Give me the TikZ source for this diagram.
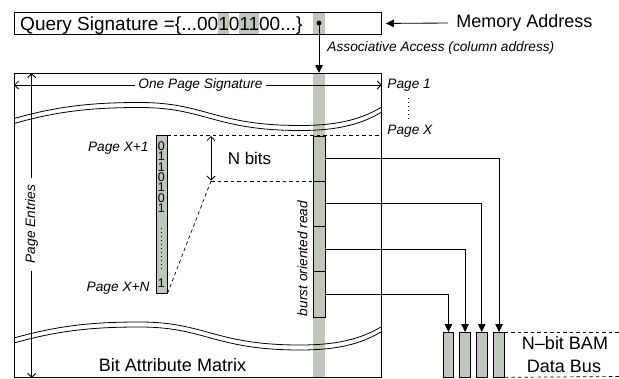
\documentclass[tikz,border=0pt]{standalone}
\usepackage{fontspec}
\setmainfont{Liberation Sans}
\usetikzlibrary{arrows.meta}
\definecolor{cgray}{RGB}{192,197,190}
\newcommand{\hlq}[1]{{\setlength{\fboxsep}{0pt}\colorbox{cgray}{\rule[-4pt]{0pt}{22pt}#1}}}
\begin{document}
\begin{tikzpicture}[x=1pt,y=-1pt,line width=0.85pt,
  lbl/.style={font=\fontsize{13.7}{16}\selectfont\itshape,inner sep=0pt},
  txt/.style={font=\fontsize{18}{21}\selectfont,inner sep=0pt},
  digit/.style={font=\fontsize{12.5}{10.3}\selectfont,inner sep=0pt},
  box/.style={draw,inner sep=0pt,anchor=north west},
  gbox/.style={box,fill=cgray},
  oarr/.style={-{Straight Barb[length=4pt,width=8pt]}},
  farr/.style={-{Triangle[length=8pt,width=7.5pt]}},
  dsh/.style={line width=0.7pt,dash pattern=on 3.5pt off 3pt},
  dots/.style={line width=0.9pt,dash pattern=on 0.8pt off 3.2pt},
  wv/.style={line width=0.8pt}]
\useasboundingbox (0,0) rectangle (619,378);
% gray column
\fill[cgray] (313,12) rectangle (325,34);
\fill[cgray] (313,73) rectangle (325,376.5);
% query box
\node[anchor=base west,inner sep=0pt,font=\fontsize{19}{22}\selectfont] (qtext) at (19.8,30) {Query Signature =\{...00\hlq{1}0\hlq{11}00...\}};
\node[box,minimum width=367pt,minimum height=22pt] (qbox) at (14,12) {};
\coordinate (dot) at (319,23);
\fill (dot) circle (2.4pt);
% matrix
\node[box,minimum width=367pt,minimum height=304pt] (bam) at (14,73) {};
\draw[farr] (dot) -- (dot |- bam.north);
\node[lbl,anchor=west] (assoc) at (327,48) {Associative Access (column address)};
\node[txt,anchor=west] (mem) at (456,23) {Memory Address};
\draw[farr] ([xshift=-8pt]mem.west) -- ([xshift=4pt]qbox.east);
% waves
\foreach \dy in {-2.5,2.5,217,222}
  \draw[wv] (14,121+\dy) .. controls (60,108+\dy) and (95,105+\dy) .. (140,105+\dy)
     .. controls (205,105+\dy) and (215,128+\dy) .. (300,128+\dy)
     .. controls (345,128+\dy) and (365,119+\dy) .. (381,110+\dy);
% one page signature
\node[lbl] (ops) at (200.5,85) {One Page Signature};
\draw[oarr] ([xshift=-3pt]ops.west) -- (ops.west -| bam.west);
\draw[oarr] ([xshift=3pt]ops.east) -- (ops.east -| bam.east);
% page entries
\node[lbl,rotate=90] (pent) at (31.7,224) {Page Entries};
\draw[oarr] ([yshift=6pt]pent.east) -- (pent.east |- bam.north);
\draw[oarr] ([yshift=-7pt]pent.west) -- (pent.west |- bam.south);
% page labels
\node[lbl,anchor=west] (p1) at (387,85) {Page 1};
\node[lbl,anchor=west] (px) at (387,131) {Page X};
\draw[dots] (408,98) -- (408,122);
% bit column
\node[gbox,minimum width=10.5pt,minimum height=158pt] (bits) at (156,135) {};
\node[digit,align=center,anchor=north] (digits) at (161.3,141.5) {0\\1\\1\\0\\1\\0\\1};
\draw[dots] (161.3,228) -- (161.3,270);
\node[digit] (lastbit) at (161.3,283) {1};
\node[lbl,anchor=east] (px1) at (149,148) {Page X+1};
\node[lbl,anchor=east] (pxn) at (150,288) {Page X+N};
% read column
\foreach \i/\y in {1/135.5,2/180.75,3/226,4/271.25}
  \node[gbox,minimum width=11.2pt,minimum height=45.25pt] (r\i) at (313.3,\y) {};
\node[lbl,rotate=90,anchor=west] (burst) at (302.5,316.5) {burst oriented read};
% dashed guides
\draw[dsh] (bits.north east) -- (bits.north east -| bam.east);
\coordinate (nbot) at (211,181);
\draw[dsh] (nbot) -- (nbot -| r2.west);
\draw[dsh] (nbot) -- (bits.south east);
\draw[{Straight Barb[length=4pt,width=8pt]}-{Straight Barb[length=4pt,width=8pt]}] (211,136) -- (211,180.5);
\node[font=\fontsize{17}{20}\selectfont,inner sep=0pt] (nbits) at (249.5,158) {N bits};
% bus
\foreach \i/\x in {1/442.7,2/459.3,3/476,4/493.3}
  \node[gbox,minimum width=10.7pt,minimum height=44.5pt] (b\i) at (\x,332) {};
\draw[farr] (r1.east) -| (b4.north);
\draw[farr] (r2.east) -| (b3.north);
\draw[farr] (r3.east) -| (b2.north);
\draw[farr] (r4.east) -| (b1.north);
\draw[dsh] (b4.north east) -- (619,332);
\draw[dsh] (b4.south east) -- (619,376.5);
\node[txt] (bus1) at (565,343) {N–bit BAM};
\node[txt] (bus2) at (564,366) {Data Bus};
\node[txt] (bamlabel) at (172.5,365) {Bit Attribute Matrix};
\end{tikzpicture}
\end{document}
